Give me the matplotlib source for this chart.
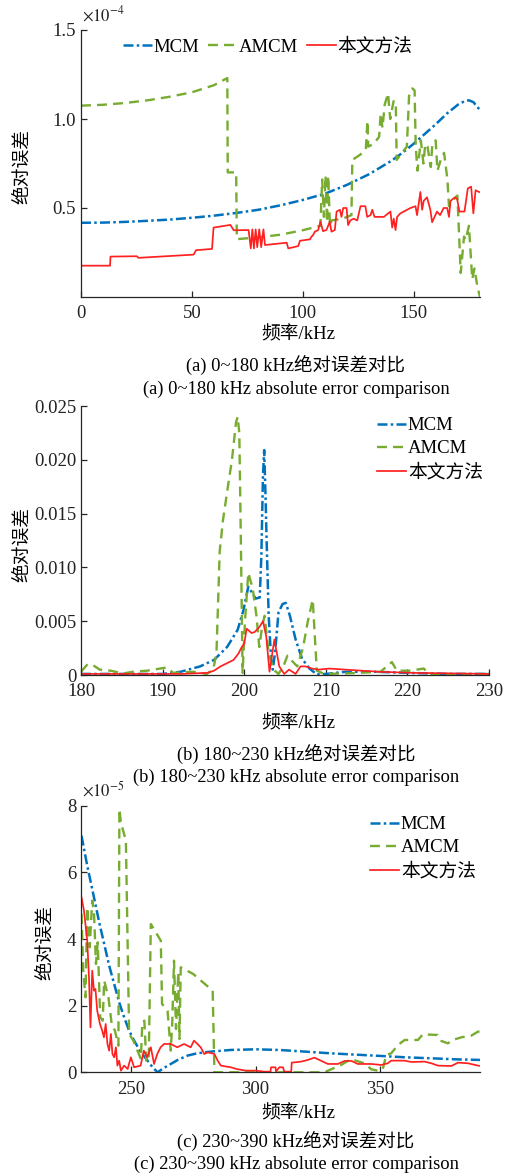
import matplotlib
matplotlib.use("Agg")
import matplotlib.pyplot as plt

plt.rcParams['font.family'] = ['Liberation Serif', 'Noto Sans CJK SC', 'DejaVu Sans']
plt.rcParams['mathtext.fontset'] = 'stix'

# ---------------- data ----------------
# panel (a): 0~180 kHz, values in units of 1e-4
MCM1 = [(0, 0.417), (10, 0.418), (20, 0.422), (30, 0.428), (40, 0.435), (50, 0.445),
        (60, 0.457), (70, 0.472), (80, 0.49), (90, 0.515), (100, 0.545), (110, 0.58),
        (120, 0.63), (130, 0.69), (140, 0.765), (145, 0.81), (150, 0.86), (155, 0.915),
        (160, 0.97), (165, 1.03), (170, 1.08), (173, 1.10), (175, 1.105), (177, 1.095),
        (179, 1.065), (180, 1.05)]
AMCM1 = [(0, 1.075), (10, 1.08), (20, 1.09), (30, 1.105), (40, 1.125), (50, 1.15), (60, 1.19),
         (66, 1.23), (66.2, 0.70), (70, 0.70), (70.3, 0.325), (80, 0.335), (90, 0.35),
         (100, 0.375), (108, 0.40), (108.8, 0.66), (109.6, 0.45), (110.3, 0.68), (111.0, 0.42),
         (111.5, 0.68), (112.3, 0.40), (113, 0.43), (118, 0.44), (122, 0.46), (122.4, 0.77),
         (126, 0.80), (128.5, 0.83), (129.2, 0.99), (129.6, 0.845), (132, 0.86), (134.5, 0.90),
         (135.2, 1.03), (136, 0.95), (137, 1.08), (138.5, 1.144), (139.5, 1.0), (141, 1.10),
         (142, 1.097), (142.4, 0.77), (147, 0.845), (148, 1.13), (149.5, 1.172), (150.5, 1.16),
         (151, 0.845), (151.8, 0.71), (153.3, 0.88), (154.5, 0.75), (155.3, 0.86), (156.3, 0.845),
         (157.8, 0.73), (158.5, 0.86), (160, 0.88), (160.8, 0.71), (162.3, 0.77), (163.8, 0.81),
         (165.3, 0.66), (166, 0.51), (168.3, 0.55), (169.8, 0.57), (171.3, 0.135), (172.8, 0.34),
         (173.5, 0.32), (175, 0.40), (176.5, 0.10), (177.5, 0.16), (178.8, 0.06), (180, 0.0)]
RED1 = [(0, 0.176), (13.1, 0.176), (13.3, 0.227), (25.2, 0.229), (25.9, 0.22), (50.8, 0.238),
        (51.9, 0.263), (59.1, 0.27), (59.8, 0.39), (67.4, 0.405), (68.9, 0.375), (75.6, 0.376),
        (76.6, 0.273), (77.3, 0.38), (78.0, 0.273), (78.8, 0.38), (79.5, 0.28), (80.4, 0.38),
        (81.3, 0.28), (82.3, 0.38), (83, 0.292), (92.8, 0.305), (93.5, 0.273), (98, 0.286),
        (98.8, 0.316), (103.3, 0.324), (104, 0.339), (104.7, 0.348), (105.5, 0.367), (107, 0.376),
        (108, 0.423), (109.2, 0.37), (110.7, 0.376), (111.5, 0.40), (112.2, 0.423), (113, 0.367),
        (114.5, 0.376), (115.3, 0.48), (116.8, 0.49), (117.5, 0.45), (118.3, 0.50), (119.8, 0.50),
        (120.5, 0.404), (121.5, 0.43), (123, 0.44), (124.6, 0.43), (126.1, 0.51), (128.3, 0.51),
        (129.1, 0.45), (130.6, 0.46), (131.4, 0.49), (132.4, 0.45), (136.6, 0.45), (139.6, 0.48),
        (140.4, 0.39), (141.1, 0.44), (141.9, 0.376), (142.6, 0.45), (144.1, 0.47), (148.6, 0.50),
        (150.9, 0.51), (151.6, 0.46), (153.1, 0.59), (153.9, 0.49), (154.6, 0.54), (156.1, 0.56),
        (157.6, 0.49), (158.4, 0.42), (160.6, 0.48), (162, 0.46), (163.6, 0.50), (165.2, 0.50),
        (166, 0.45), (166.7, 0.54), (168.7, 0.56), (169.7, 0.55), (170.7, 0.48), (173, 0.48),
        (174.5, 0.61), (176, 0.62), (177, 0.47), (178, 0.60), (179.5, 0.59), (180, 0.59)]

# panel (b): 180~230 kHz
MCM2 = [(180, 0.0001), (185, 0.0001), (188, 0.0001), (190, 0.0001), (192.2, 0.0003),
        (194.6, 0.0008), (196.3, 0.0014), (197.9, 0.0026), (199.2, 0.0042), (199.9, 0.006),
        (200.5, 0.0082), (201.0, 0.0076), (201.4, 0.0071), (201.9, 0.0072), (202.1, 0.011),
        (202.3, 0.0185), (202.45, 0.0209), (202.6, 0.017), (202.8, 0.011), (203.0, 0.0055),
        (203.3, 0.0015), (203.5, 0.0005), (203.8, 0.0022), (204.2, 0.0058), (204.7, 0.0066),
        (205.1, 0.0067), (205.6, 0.0055), (206.3, 0.0033), (207.1, 0.0015), (208, 0.0006),
        (208.9, 0.00005), (210.1, 0.0001), (212.4, 0.0003), (216, 0.0003), (220, 0.0002),
        (225, 0.0001), (230, 0.0001)]
AMCM2 = [(180, 0.0003), (180.8, 0.001), (181.5, 0.0009), (182.3, 0.0005), (183.6, 0.0004),
         (185.2, 0.00015), (186.4, 0.0003), (188.1, 0.0004), (189.7, 0.0006), (190.5, 0.0007),
         (191.3, 0.0002), (193.8, 0.0003), (195.4, 0.0001), (196.2, 0.0005), (196.6, 0.002),
         (197.0, 0.0115), (197.4, 0.0144), (198.0, 0.0175), (198.5, 0.020), (199.0, 0.0235),
         (199.2, 0.024), (199.4, 0.0225), (199.6, 0.012), (199.8, 0.0002), (200.1, 0.005),
         (200.5, 0.0095), (201.05, 0.008), (201.5, 0.0055), (201.85, 0.0026), (202.2, 0.0045),
         (202.5, 0.0055), (203.0, 0.002), (203.6, 0.0005), (204.2, 0.0001), (204.8, 0.0008),
         (205.3, 0.0018), (206.0, 0.0012), (206.5, 0.0008), (207.2, 0.0025), (207.8, 0.0050),
         (208.4, 0.0070), (208.7, 0.003), (208.9, 0.0004), (209.8, 0.0001), (212.6, 0.00015),
         (216.7, 0.0003), (218.1, 0.0012), (218.7, 0.0004), (220.3, 0.0004), (222, 0.0006),
         (222.8, 0.0), (225, 0.00005), (230, 0.0001)]
RED2 = [(180, 0.0001), (192.3, 0.0001), (195.5, 0.0002), (196.3, 0.0004), (197.1, 0.0008),
        (197.9, 0.0011), (198.7, 0.0014), (199.3, 0.002), (199.7, 0.0026), (200.0, 0.0029),
        (200.3, 0.0043), (200.9, 0.0039), (201.3, 0.004), (201.9, 0.0045), (202.3, 0.005),
        (202.7, 0.0036), (203.1, 0.0003), (203.7, 0.0033), (204.3, 0.0008), (204.9, 0.0001),
        (205.5, 0.0005), (206.3, 0.0001), (206.9, 0.0008), (207.5, 0.0008), (208.3, 0.0006),
        (209.1, 0.0005), (210.4, 0.0006), (212.4, 0.0005), (216.5, 0.0003), (220.6, 0.0002),
        (230, 0.0001)]

# panel (c): 230~390 kHz, values in units of 1e-5
MCM3 = [(230.2, 7.1), (232.5, 6.2), (235.2, 5.25), (237.3, 4.5), (239.3, 3.85), (241.3, 3.2),
        (243.3, 2.65), (245.3, 2.1), (247.3, 1.65), (249.3, 1.25), (251.3, 0.95), (254, 0.6),
        (256.7, 0.35), (258.7, 0.15), (260.7, 0.0), (263, 0.12), (266, 0.25), (269, 0.38),
        (272.7, 0.5), (276, 0.56), (279.4, 0.6), (283.5, 0.63), (290, 0.67), (300, 0.69),
        (309.5, 0.67), (318, 0.63), (330, 0.57), (340, 0.53), (350.4, 0.49), (360, 0.45),
        (370.5, 0.42), (380, 0.39), (390.5, 0.37)]
AMCM3 = [(230.2, 4.75), (230.9, 3.05), (231.8, 2.25), (232.5, 4.95), (233.5, 3.75), (234.5, 5.15),
         (235.2, 4.8), (236, 3.25), (236.7, 3.9), (237.7, 1.65), (238.7, 1.55), (239.3, 2.75),
         (241, 2.25), (242.3, 1.45), (243.6, 1.25), (245.0, 0.8), (245.4, 7.9), (246.0, 7.5),
         (248.0, 6.95), (249.3, 1.15), (251, 0.95), (254, 0.4), (254.6, 1.5), (255.4, 1.55),
         (256.2, 0.3), (257.2, 0.5), (258.0, 4.45), (260, 4.2), (262, 3.95), (262.5, 2.05),
         (264.7, 1.85), (266, 0.65), (266.6, 1.5), (267.3, 3.35), (268.1, 1.3), (269.0, 3.0),
         (269.5, 1.0), (270, 3.15), (275, 2.95), (282.8, 2.45), (283.5, 0.0), (300, 0.0),
         (327.6, 0.0), (330.3, 0.09), (334.3, 0.22), (338.3, 0.4), (341, 0.33), (343.7, 0.27),
         (346.4, 0.09), (349, 0.05), (351, 0.09), (352.4, 0.52), (354.4, 0.57), (357.1, 0.82),
         (359.8, 0.97), (365.1, 0.97), (367.1, 1.14), (373, 1.12), (374.5, 0.94), (377.1, 0.87),
         (379.1, 0.97), (382.5, 1.05), (386.5, 1.1), (389.2, 1.22), (390.5, 1.22)]
RED3 = [(230.2, 5.25), (231.2, 4.85), (232.5, 3.95), (233.2, 2.85), (233.8, 1.35), (234.5, 3.05),
        (235.2, 2.45), (235.8, 2.5), (236.5, 1.85), (237.6, 1.45), (238.5, 1.25), (239.2, 1.05),
        (239.9, 1.45), (240.6, 0.85), (241.3, 0.65), (242, 1.15), (242.6, 0.55), (243.3, 0.45),
        (244, 0.75), (244.6, 0.2), (245.3, 0.35), (246, 0.05), (247.3, 0.2), (248.7, 0.1),
        (250, 0.45), (251.3, 0.15), (253.9, 0.2), (255.2, 0.65), (256.5, 0.45), (258, 0.75),
        (259.3, 0.25), (260.6, 0.55), (261.9, 0.75), (263.3, 0.85), (266, 0.85), (268.6, 0.75),
        (271.3, 0.85), (274, 0.75), (275.3, 0.95), (276.7, 0.85), (278, 0.75), (279.4, 0.55),
        (280.8, 0.6), (283.5, 0.55), (284.8, 0.35), (286.1, 0.2), (290.1, 0.15), (292.3, 0.1),
        (296, 0.05), (300, 0.05), (303.5, 0.02), (306, 0.02), (306.2, 0.15), (308, 0.15),
        (308.2, 0.02), (309.5, 0.15), (311, 0.15), (311.5, 0.02), (314.3, 0.02), (314.5, 0.29),
        (318.2, 0.32), (320.9, 0.37), (323.6, 0.44), (325.6, 0.37), (329, 0.25), (333, 0.25),
        (335.7, 0.34), (338.5, 0.34), (341, 0.25), (346.4, 0.25), (350.4, 0.22), (353, 0.27),
        (354.4, 0.35), (359.7, 0.35), (362.4, 0.31), (367.8, 0.32), (370.5, 0.27), (373.2, 0.2),
        (378.5, 0.19), (381.2, 0.29), (385.2, 0.27), (389.2, 0.2), (390.5, 0.19)]

LABELS = ['MCM', 'AMCM', '本文方法']
XLABEL = '频率/kHz'
YLABEL = '绝对误差'
CAPTIONS = [('(a) 0~180 kHz绝对误差对比', '(a) 0~180 kHz absolute error comparison'),
            ('(b) 180~230 kHz绝对误差对比', '(b) 180~230 kHz absolute error comparison'),
            ('(c) 230~390 kHz绝对误差对比', '(c) 230~390 kHz absolute error comparison')]

# ---------------- styling ----------------
C_MCM = '#0072BD'
C_AMCM = '#77AC30'
C_RED = '#FF2020'
FS = 13.5
W, H = 520, 1175

fig = plt.figure(figsize=(W / 100, H / 100), dpi=100)


def fx(px):
    return px / W


def fy(py):
    return 1 - py / H


def make_ax(left, top, right, bottom):
    ax = fig.add_axes([fx(left), fy(bottom), fx(right - left), (bottom - top) / H])
    for s in ('top', 'right'):
        ax.spines[s].set_visible(False)
    for s in ('left', 'bottom'):
        ax.spines[s].set_color('#262626')
        ax.spines[s].set_linewidth(0.9)
    ax.tick_params(direction='in', length=4, width=0.9, colors='#262626',
                   labelsize=FS, labelcolor='#222222')
    ax.tick_params(axis='x', pad=6)
    return ax


def draw(ax, mcm, amcm, red):
    x, y = zip(*mcm)
    l1, = ax.plot(x, y, color=C_MCM, lw=1.8, dashes=(4, 1.3, 1, 1.3), label=LABELS[0])
    x, y = zip(*amcm)
    l2, = ax.plot(x, y, color=C_AMCM, lw=1.7, dashes=(4.2, 2.6), label=LABELS[1])
    x, y = zip(*red)
    l3, = ax.plot(x, y, color=C_RED, lw=1.25, label=LABELS[2])
    return [l1, l2, l3]


def texts(xlab_y, ylab_x, ylab_y):
    fig.text(fx(298), fy(xlab_y), XLABEL, ha='center', va='center', fontsize=FS)
    fig.text(fx(ylab_x), fy(ylab_y), YLABEL, ha='center', va='center', fontsize=FS,
             rotation=90)


# panel a
ax1 = make_ax(81, 30, 480, 297)
h = draw(ax1, MCM1, AMCM1, RED1)
ax1.set_xlim(0, 180)
ax1.set_ylim(0, 1.5)
ax1.set_xticks([0, 50, 100, 150])
ax1.set_yticks([0.5, 1.0, 1.5])
ax1.set_yticklabels(['0.5', '1.0', '1.5'])
fig.legend(handles=h, loc='center left', bbox_to_anchor=(fx(123), fy(47)), ncol=3,
           frameon=False, fontsize=FS, handlelength=1.55, handletextpad=0.1,
           columnspacing=0.45, borderpad=0, borderaxespad=0)
fig.text(fx(82), fy(21), r'$\times10^{-4}$', fontsize=12, ha='left', va='baseline',
         color='#222222')
texts(335, 22, 167)

# panel b
ax2 = make_ax(81, 406, 489, 675)
h = draw(ax2, MCM2, AMCM2, RED2)
ax2.set_xlim(180, 230)
ax2.set_ylim(0, 0.025)
ax2.set_xticks([180, 190, 200, 210, 220, 230])
ax2.set_yticks([0, 0.005, 0.010, 0.015, 0.020, 0.025])
ax2.set_yticklabels(['0', '0.005', '0.010', '0.015', '0.020', '0.025'])
fig.legend(handles=h, loc='upper left', bbox_to_anchor=(fx(377), fy(417)), ncol=1,
           frameon=False, fontsize=FS, handlelength=1.55, handletextpad=0.1,
           labelspacing=0.33, borderpad=0, borderaxespad=0)
texts(724, 22, 544)

# panel c
ax3 = make_ax(81, 805.7, 480, 1072.3)
h = draw(ax3, MCM3, AMCM3, RED3)
ax3.set_xlim(230, 390)
ax3.set_ylim(0, 8)
ax3.set_xticks([250, 300, 350])
ax3.set_yticks([0, 2, 4, 6, 8])
fig.legend(handles=h, loc='upper left', bbox_to_anchor=(fx(370), fy(816)), ncol=1,
           frameon=False, fontsize=FS, handlelength=1.55, handletextpad=0.1,
           labelspacing=0.33, borderpad=0, borderaxespad=0)
fig.text(fx(82), fy(796), r'$\times10^{-5}$', fontsize=12, ha='left', va='baseline',
         color='#222222')
texts(1114, 45, 943)

# captions
for (c1, c2), (y1, y2) in zip(CAPTIONS, [(365, 389), (754, 777), (1141, 1164)]):
    fig.text(fx(296), fy(y1), c1, ha='center', va='center', fontsize=13.3)
    fig.text(fx(296), fy(y2), c2, ha='center', va='center', fontsize=13.3)

fig.savefig('out.png', dpi=100, facecolor='white')
